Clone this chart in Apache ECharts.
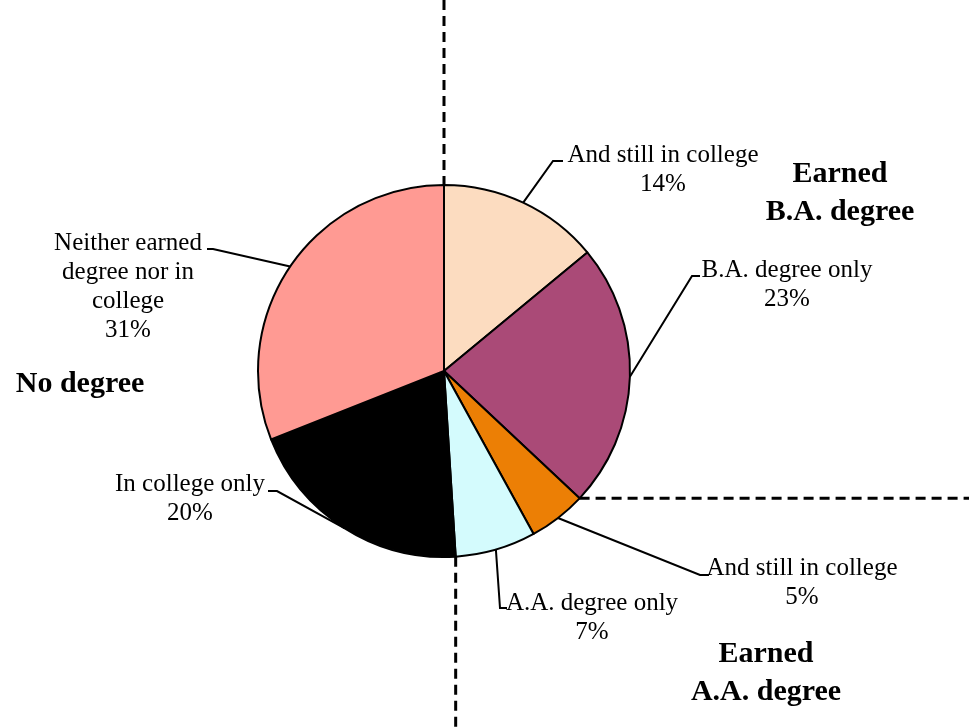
<!DOCTYPE html>
<html>
<head>
<meta charset="utf-8">
<script src="https://cdn.jsdelivr.net/npm/echarts@6/dist/echarts.min.js"></script>
<style>
  html, body { margin: 0; padding: 0; background: #fff; }
  #chart { width: 969px; height: 728px; }
</style>
</head>
<body>
<div id="chart"></div>
<script>
// data, clockwise from 12 o'clock
const categories = [
  "And still in college",
  "B.A. degree only",
  "And still in college",
  "A.A. degree only",
  "In college only",
  "Neither earned\ndegree nor in\ncollege",
];
const shares = [14, 23, 5, 7, 20, 31];
const groupLabels = ["Earned\nB.A. degree", "No degree", "Earned\nA.A. degree"];

// look
const sliceColors = ["#fcdcc0", "#aa4a77", "#ec7f05", "#d4fbfd", "#000000", "#ff9a93"];
const cx = 444, cy = 371, r = 186;
const serif = "'Liberation Serif', 'Times New Roman', serif";

// label centres and leader bends (layout only)
const labelAt = [[663, 170], [787, 285], [802, 583], [592, 618], [190, 499], [128, 287]];
const bendAt = [[553, 161, 563], [692, 276, 700], [700, 575, 709], [500, 608, 507], [277, 491, 268], [213, 249, 207]];

const total = shares.reduce((a, b) => a + b, 0);
// point on the rim at a fraction of the way round
function rim(frac) {
  const a = frac * Math.PI * 2;
  return [cx + r * Math.sin(a), cy - r * Math.cos(a)];
}
const cum = [];
shares.reduce((acc, v) => { cum.push(acc); return acc + v; }, 0);

const chart = echarts.init(document.getElementById("chart"));

// dashed dividers start where the group boundaries meet the rim
const topPt = rim(0);
const baPt = rim((shares[0] + shares[1]) / total);
const aaPt = rim((shares[0] + shares[1] + shares[2] + shares[3]) / total);
const dash = { stroke: "#000", lineWidth: 3, lineDash: [10, 6] };
const bold = { font: "bold 30px " + serif, lineHeight: 38, align: "center", verticalAlign: "middle", fill: "#000" };

chart.setOption({
  animation: false,
  backgroundColor: "#fff",
  graphic: [
    { type: "line", z: -1, shape: { x1: topPt[0], y1: 0, x2: topPt[0], y2: topPt[1] }, style: dash },
    { type: "line", z: -1, shape: { x1: baPt[0], y1: baPt[1], x2: 969, y2: baPt[1] }, style: dash },
    { type: "line", z: -1, shape: { x1: aaPt[0], y1: aaPt[1], x2: aaPt[0], y2: 728 }, style: dash },
    { type: "text", x: 840, y: 193, style: Object.assign({ text: groupLabels[0] }, bold) },
    { type: "text", x: 80, y: 384, style: Object.assign({ text: groupLabels[1] }, bold) },
    { type: "text", x: 766, y: 673, style: Object.assign({ text: groupLabels[2] }, bold) },
  ],
  series: [
    {
      type: "pie",
      center: [cx, cy],
      radius: r,
      startAngle: 90,
      clockwise: true,
      avoidLabelOverlap: false,
      itemStyle: { borderColor: "#000", borderWidth: 2 },
      label: {
        show: true,
        position: "outside",
        formatter: "{b}\n{c}%",
        fontFamily: serif,
        fontSize: 25,
        lineHeight: 29,
        color: "#000",
        align: "center",
      },
      labelLine: { show: true, lineStyle: { color: "#000", width: 2 } },
      labelLayout: function (p) {
        const i = p.dataIndex;
        const start = rim((cum[i] + shares[i] / 2) / total);
        const b = bendAt[i];
        return {
          x: labelAt[i][0],
          y: labelAt[i][1],
          align: "center",
          verticalAlign: "middle",
          labelLinePoints: [start, [b[0], b[1]], [b[2], b[1]]],
        };
      },
      emphasis: { disabled: true },
      data: categories.map((name, i) => ({
        name: name,
        value: shares[i],
        itemStyle: { color: sliceColors[i] },
      })),
    },
  ],
});
</script>
</body>
</html>
